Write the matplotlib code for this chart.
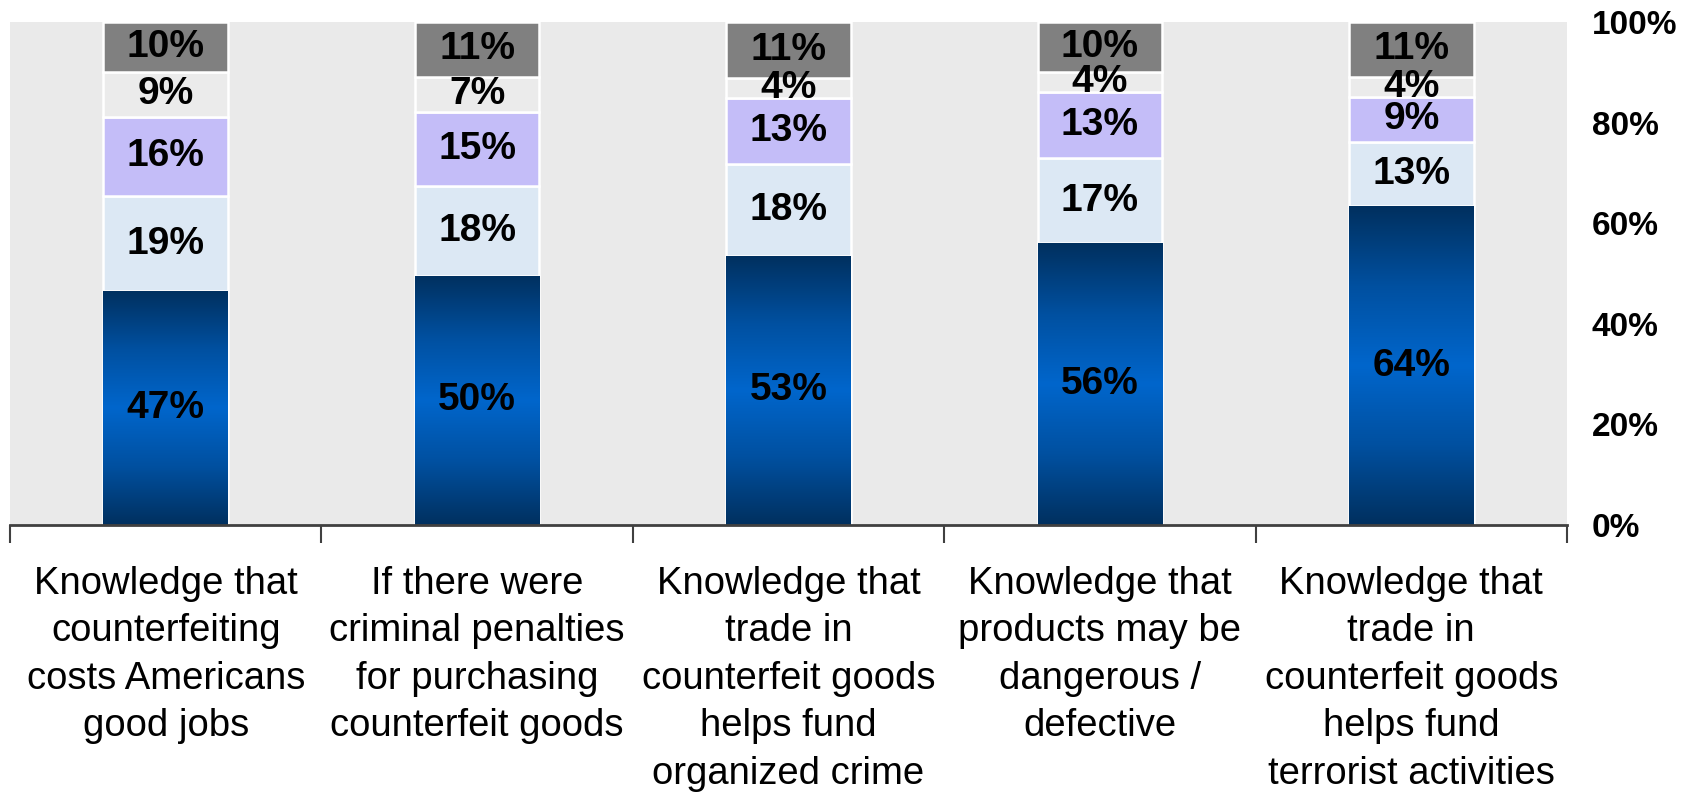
import matplotlib
matplotlib.use("Agg")
import matplotlib.pyplot as plt
import numpy as np
from matplotlib.colors import LinearSegmentedColormap
from matplotlib.ticker import FixedLocator, FuncFormatter

plt.rcParams['font.family'] = ['Liberation Sans', 'DejaVu Sans']

categories = [
    "Knowledge that\ncounterfeiting\ncosts Americans\ngood jobs",
    "If there were\ncriminal penalties\nfor purchasing\ncounterfeit goods",
    "Knowledge that\ntrade in\ncounterfeit goods\nhelps fund\norganized crime",
    "Knowledge that\nproducts may be\ndangerous /\ndefective",
    "Knowledge that\ntrade in\ncounterfeit goods\nhelps fund\nterrorist activities",
]
seg1 = [47, 50, 53, 56, 64]   # dark blue
seg2 = [19, 18, 18, 17, 13]   # light blue
seg3 = [16, 15, 13, 13, 9]    # lavender
seg4 = [9, 7, 4, 4, 4]        # light grey
seg5 = [10, 11, 11, 10, 11]   # grey
series = [seg1, seg2, seg3, seg4, seg5]
colors = ["#0063C6", "#DCE8F4", "#C4BDF8", "#EBEBEB", "#808080"]
ytick_vals = [0, 20, 40, 60, 80, 100]

W, H = 1688, 793
fig = plt.figure(figsize=(W / 100, H / 100), dpi=100)
ax = fig.add_axes([10 / W, 1 - 525 / H, (1567 - 10) / W, (525 - 22) / H])
ax.set_facecolor("#EAEAEA")

x = np.arange(len(categories))
arr = np.array(series, dtype=float)
totals = arr.sum(axis=0)
norm = arr / totals * 100

grad = LinearSegmentedColormap.from_list("g", ["#00305F", "#0050A0", "#0066CC", "#0050A0", "#00305F"])

bottom = np.zeros(len(categories))
for i, (vals, raw) in enumerate(zip(norm, series)):
    bars = ax.bar(x, vals, width=0.40, bottom=bottom, color=colors[i],
                  edgecolor="white", linewidth=1.8, zorder=2)
    if i == 0:
        for p in bars:
            bx, by = p.get_x(), p.get_y()
            bw, bh = p.get_width(), p.get_height()
            img = ax.imshow(np.linspace(0, 1, 256).reshape(-1, 1), cmap=grad,
                            extent=[bx, bx + bw, by, by + bh], aspect="auto",
                            zorder=2.5, interpolation="bicubic", origin="lower")
            img.set_clip_path(p)
    for xi, b, v, r in zip(x, bottom, vals, raw):
        ax.text(xi, b + v / 2, f"{r}%", ha="center", va="center",
                fontsize=28, fontweight="bold", color="black", zorder=4)
    bottom += vals

ax.set_xlim(-0.5, len(categories) - 0.5)
ax.set_ylim(0, 100)

ax.yaxis.tick_right()
ax.yaxis.set_major_locator(FixedLocator(ytick_vals))
ax.yaxis.set_major_formatter(FuncFormatter(lambda v, p: f"{int(v)}%"))
ax.tick_params(axis="y", length=0, pad=18, labelsize=24)
for lbl in ax.get_yticklabels():
    lbl.set_fontweight("bold")

ax.set_xticks(x)
ax.set_xticklabels(categories, fontsize=27.5, linespacing=1.41, va="top")
ax.tick_params(axis="x", which="major", length=0, pad=29.5)
ax.set_xticks(np.arange(-0.5, len(categories)), minor=True)
ax.tick_params(axis="x", which="minor", length=13, width=1.5, color="#404040", direction="out")

for s in ["top", "right", "left"]:
    ax.spines[s].set_visible(False)
ax.spines["bottom"].set_color("#404040")
ax.spines["bottom"].set_linewidth(2)
ax.spines["bottom"].set_zorder(5)

fig.savefig("out.png", dpi=100, facecolor="white")
